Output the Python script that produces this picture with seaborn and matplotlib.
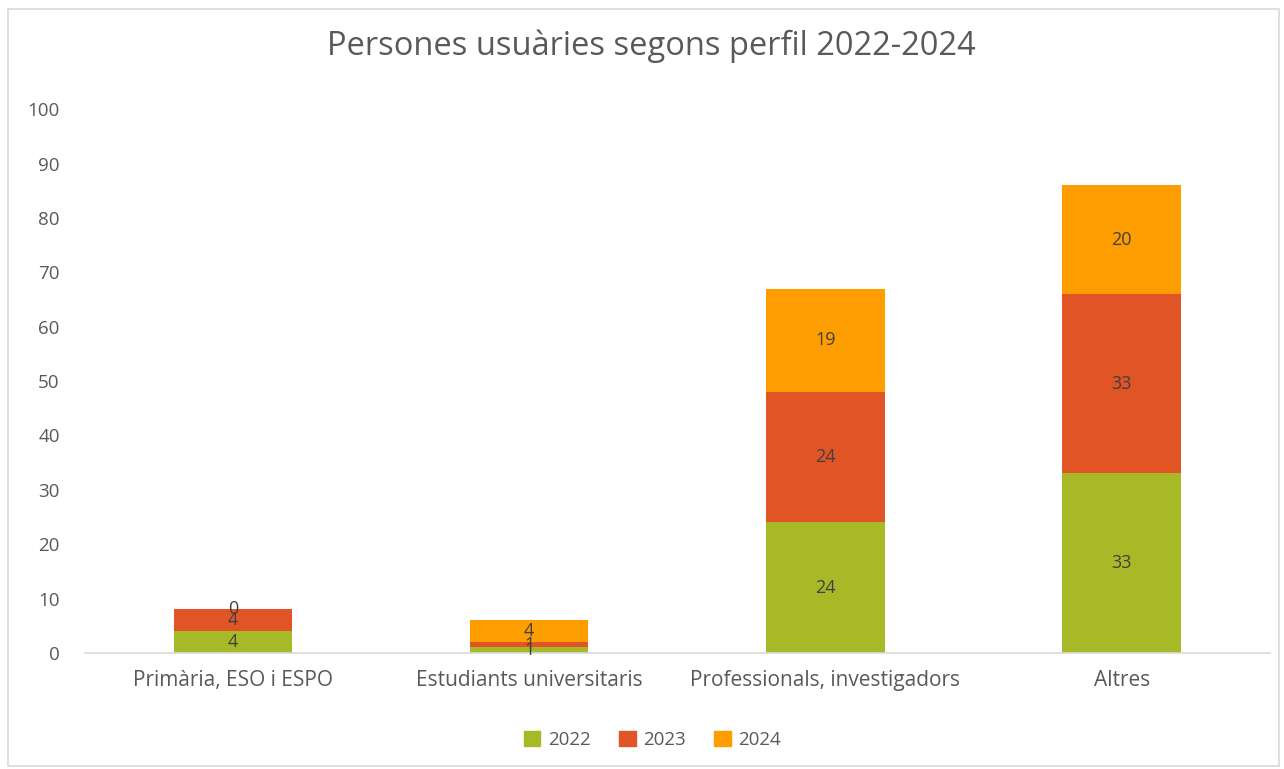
import matplotlib
matplotlib.use("Agg")
import matplotlib.pyplot as plt
import matplotlib.patches as mpatches
import numpy as np
import pandas as pd
import seaborn as sns

# data
categories = ["Primària, ESO i ESPO", "Estudiants universitaris",
              "Professionals, investigadors", "Altres"]
years = ["2022", "2023", "2024"]
v2022 = [4, 1, 24, 33]
v2023 = [4, 1, 24, 33]
v2024 = [0, 4, 19, 20]
colors = ["#A8B928", "#E05426", "#FE9D00"]

sns.set_style("white")
plt.rcParams["font.family"] = ["Open Sans", "DejaVu Sans"]
text_col = "#595959"

fig = plt.figure(figsize=(12.84, 7.69), dpi=100)
ax = fig.add_axes([0.066, 0.151, 0.923, 0.707])

series = [v2022, v2023, v2024]
cum = np.cumsum(np.array(series), axis=0)

# draw from top layer down so lower layers sit on top
for i in range(len(series) - 1, -1, -1):
    df = pd.DataFrame({"cat": categories, "val": cum[i]})
    sns.barplot(data=df, x="cat", y="val", color=colors[i], width=0.4,
                saturation=1, ax=ax, order=categories, linewidth=0)

# segment labels
for i, vals in enumerate(series):
    bottoms = cum[i] - np.array(vals)
    for j, v in enumerate(vals):
        ax.text(j, bottoms[j] + v / 2, str(v), ha="center", va="center",
                fontsize=13, color="#404040")

ax.set_ylim(0, 100)
ax.set_xlim(-0.5, 3.5)
ax.set_yticks(range(0, 101, 10))
ax.set_xlabel("")
ax.set_ylabel("")
for s in ["top", "right", "left"]:
    ax.spines[s].set_visible(False)
ax.spines["bottom"].set_color("#D9D9D9")
ax.spines["bottom"].set_linewidth(1.2)
ax.tick_params(axis="x", length=0, labelsize=15, colors=text_col, pad=12)
ax.tick_params(axis="y", length=0, labelsize=13.5, colors=text_col, pad=18)

fig.suptitle("Persones usuàries segons perfil 2022-2024", x=0.507, y=0.962,
             fontsize=23.5, color=text_col)

handles = [mpatches.Patch(color=c, label=y) for c, y in zip(colors, years)]
fig.legend(handles=handles, loc="center", bbox_to_anchor=(0.508, 0.038), ncol=3,
           frameon=False, fontsize=13.5, labelcolor=text_col,
           handlelength=0.9, handleheight=0.9, columnspacing=1.5, handletextpad=0.4)

fig.patches.append(mpatches.Rectangle((0.006, 0.004), 0.99, 0.984, transform=fig.transFigure,
                                      fill=False, edgecolor="#D9D9D9", linewidth=1.2))

fig.savefig("out.png", dpi=100)
